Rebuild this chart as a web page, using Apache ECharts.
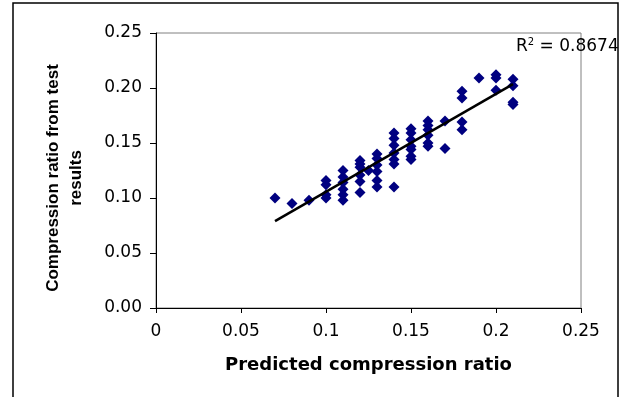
<!DOCTYPE html>
<html>
<head>
<meta charset="utf-8">
<script src="https://cdn.jsdelivr.net/npm/echarts@6/dist/echarts.min.js"></script>
<style>
html,body{margin:0;padding:0;background:#fff;}
#c{width:622px;height:397px;}
</style>
</head>
<body>
<div id="c"></div>
<script>
// Predicted compression ratio (x) and measured compression ratio (y)
const predicted = [
  0.07, 0.08, 0.09,
  0.10, 0.10, 0.10, 0.10,
  0.11, 0.11, 0.11, 0.11, 0.11, 0.11,
  0.12, 0.12, 0.12, 0.12, 0.12, 0.12,
  0.125,
  0.13, 0.13, 0.13, 0.13, 0.13, 0.13,
  0.14, 0.14, 0.14, 0.14, 0.14, 0.14, 0.14,
  0.15, 0.15, 0.15, 0.15, 0.15, 0.15, 0.15,
  0.16, 0.16, 0.16, 0.16, 0.16, 0.16,
  0.17, 0.17,
  0.18, 0.18, 0.18, 0.18,
  0.19,
  0.20, 0.20, 0.20,
  0.21, 0.21, 0.21, 0.21
];
const measured = [
  0.100, 0.095, 0.098,
  0.116, 0.112, 0.103, 0.100,
  0.125, 0.119, 0.114, 0.108, 0.103, 0.098,
  0.134, 0.131, 0.128, 0.121, 0.115, 0.105,
  0.125,
  0.140, 0.136, 0.130, 0.124, 0.116, 0.110,
  0.159, 0.154, 0.148, 0.141, 0.135, 0.131, 0.110,
  0.163, 0.159, 0.153, 0.147, 0.144, 0.138, 0.135,
  0.170, 0.166, 0.162, 0.157, 0.150, 0.147,
  0.170, 0.145,
  0.197, 0.191, 0.169, 0.162,
  0.209,
  0.212, 0.209, 0.198,
  0.208, 0.202, 0.187, 0.185
];
// Linear trend line end points
const trendX = [0.07, 0.21];
const trendY = [0.079, 0.2035];
const xTicks = [0, 0.05, 0.1, 0.15, 0.2, 0.25];
const yTicks = [0, 0.05, 0.1, 0.15, 0.2, 0.25];
const rSquared = '0.8674';

const points = predicted.map((x, i) => [x, measured[i]]);
const trend = trendX.map((x, i) => [x, trendY[i]]);

const chart = echarts.init(document.getElementById('c'), null, {renderer: 'canvas'});
const WIDE = '"DejaVu Sans", Verdana, sans-serif';
const ARIAL = '"Liberation Sans", Arial, sans-serif';
chart.setOption({
  animation: false,
  backgroundColor: '#fff',
  grid: {
    left: 156, right: 41, top: 33, bottom: 89,
    show: true, borderColor: '#808080', borderWidth: 1, backgroundColor: 'transparent'
  },
  xAxis: {
    type: 'value', min: xTicks[0], max: xTicks[xTicks.length - 1], interval: 0.05,
    splitLine: {show: false},
    axisLine: {show: true, onZero: false, lineStyle: {color: '#000', width: 1}},
    axisTick: {show: true, length: 5, lineStyle: {color: '#000'}},
    axisLabel: {color: '#000', fontSize: 17, fontFamily: WIDE, margin: 15},
    name: 'Predicted compression ratio', nameLocation: 'middle', nameGap: 48,
    nameTextStyle: {color: '#000', fontSize: 18, fontWeight: 'bold', fontFamily: WIDE}
  },
  yAxis: {
    type: 'value', min: yTicks[0], max: yTicks[yTicks.length - 1], interval: 0.05,
    splitLine: {show: false},
    axisLine: {show: true, onZero: false, lineStyle: {color: '#000', width: 1}},
    axisTick: {show: true, length: 6, lineStyle: {color: '#000'}},
    axisLabel: {color: '#000', fontSize: 17, fontFamily: WIDE, margin: 14,
      formatter: v => v.toFixed(2)}
  },
  graphic: [
    {type: 'rect', shape: {x: 13, y: 3, width: 605, height: 420},
      style: {fill: 'none', stroke: '#000', lineWidth: 1.5}, silent: true},
    {type: 'text', x: 65, y: 178, rotation: Math.PI / 2,
      style: {text: 'Compression ratio from test\nresults', align: 'center', verticalAlign: 'middle',
        font: 'bold 17px ' + ARIAL, fill: '#000', lineHeight: 23}},
    {type: 'text', x: 516, y: 47,
      style: {text: '{a|R}{s|2}{a| = ' + rSquared + '}', verticalAlign: 'middle',
        rich: {
          a: {fontSize: 17, fontFamily: WIDE, fill: '#000', color: '#000'},
          s: {fontSize: 10, fontFamily: WIDE, fill: '#000', color: '#000', verticalAlign: 'top', padding: [0, 0, 9, 0]}
        }}}
  ],
  series: [
    {
      type: 'scatter', data: points, symbol: 'diamond', symbolSize: [11, 11],
      itemStyle: {color: '#000080', opacity: 1}, z: 3
    },
    {
      type: 'line', data: trend, symbol: 'none', lineStyle: {color: '#000', width: 2.5}, z: 4
    }
  ]
});
</script>
</body>
</html>
